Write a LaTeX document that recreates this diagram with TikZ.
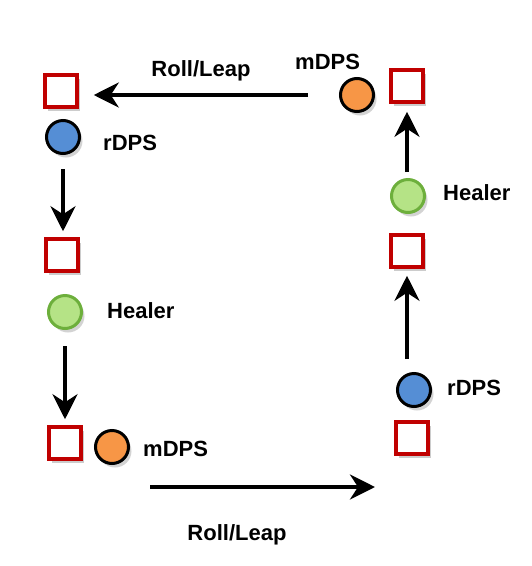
\documentclass[tikz,border=0pt]{standalone}
\usepackage{fontspec}
\setmainfont{Liberation Sans}
\usetikzlibrary{arrows.meta, positioning, shadows}
\definecolor{slotred}{HTML}{C00000}
\definecolor{mdpsorange}{HTML}{F79646}
\definecolor{rdpsblue}{HTML}{558ED5}
\definecolor{healgreen}{HTML}{B5E386}
\definecolor{healdark}{HTML}{6DAF3C}
\tikzset{
  slot/.style={
    rectangle, draw=slotred, line width=3.5pt, fill=white,
    minimum size=32pt, inner sep=0pt,
    drop shadow={opacity=0.4, shadow xshift=3pt, shadow yshift=-4pt}
  },
  role/.style={
    circle, draw=#1, line width=3pt,
    minimum size=33pt, inner sep=0pt,
    drop shadow={opacity=0.35, shadow xshift=3pt, shadow yshift=-4pt}
  },
  lbl/.style={font=\fontsize{22}{25}\selectfont\bfseries, inner sep=0pt},
  arrow/.style={-{Stealth[length=25pt, width=25pt, inset=8pt]},
    line width=4pt, black}
}
\begin{document}
\begin{tikzpicture}[x=1pt, y=-1pt]
  \useasboundingbox (0,0) rectangle (532,566);
  % left column
  \node[slot] (sqL1) at (61,91) {};
  \node[role=black, fill=rdpsblue] (rL) at (63,137) {};
  \node[lbl, anchor=west] (rLt) at (103,143) {rDPS};
  \node[slot] (sqL2) at (62,255) {};
  \node[role=healdark, fill=healgreen] (hL) at (65,312) {};
  \node[lbl, anchor=west] (hLt) at (107,311) {Healer};
  \node[slot] (sqL3) at (65,443) {};
  \node[role=black, fill=mdpsorange] (mL) at (112,447) {};
  \node[lbl, anchor=west] (mLt) at (143,449) {mDPS};
  % right column
  \node[slot] (sqR1) at (407,86) {};
  \node[role=black, fill=mdpsorange] (mR) at (357,95) {};
  \node[lbl, anchor=west] (mRt) at (295,62) {mDPS};
  \node[role=healdark, fill=healgreen] (hR) at (408,196) {};
  \node[lbl, anchor=west] (hRt) at (443,193) {Healer};
  \node[slot] (sqR2) at (407,251) {};
  \node[role=black, fill=rdpsblue] (rR) at (414,390) {};
  \node[lbl, anchor=west] (rRt) at (447,388) {rDPS};
  \node[slot] (sqR3) at (412,438) {};
  % roll labels
  \node[lbl] (rollT) at (201,71) {Roll/Leap};
  \node[lbl] (rollB) at (237,535) {Roll/Leap};
  \coordinate (bStart) at (150,487);
  \coordinate (bEnd) at (375,487);
  % arrows
  \draw[arrow, shorten <=31pt, shorten >=15pt] (mR) -- (sqL1.east |- mR);
  \draw[arrow, shorten <=14pt, shorten >=6pt] (rL.south) -- (rL.south |- sqL2.north);
  \draw[arrow, shorten <=16pt, shorten >=6pt] (hL.south) -- (hL.south |- sqL3.north);
  \draw[arrow] (bStart) -- (bEnd);
  \draw[arrow, shorten <=13pt, shorten >=7pt] (sqR2.south |- rR.north) -- (sqR2.south);
  \draw[arrow, shorten <=6pt, shorten >=8pt] (sqR1.south |- hR.north) -- (sqR1.south);
\end{tikzpicture}
\end{document}
